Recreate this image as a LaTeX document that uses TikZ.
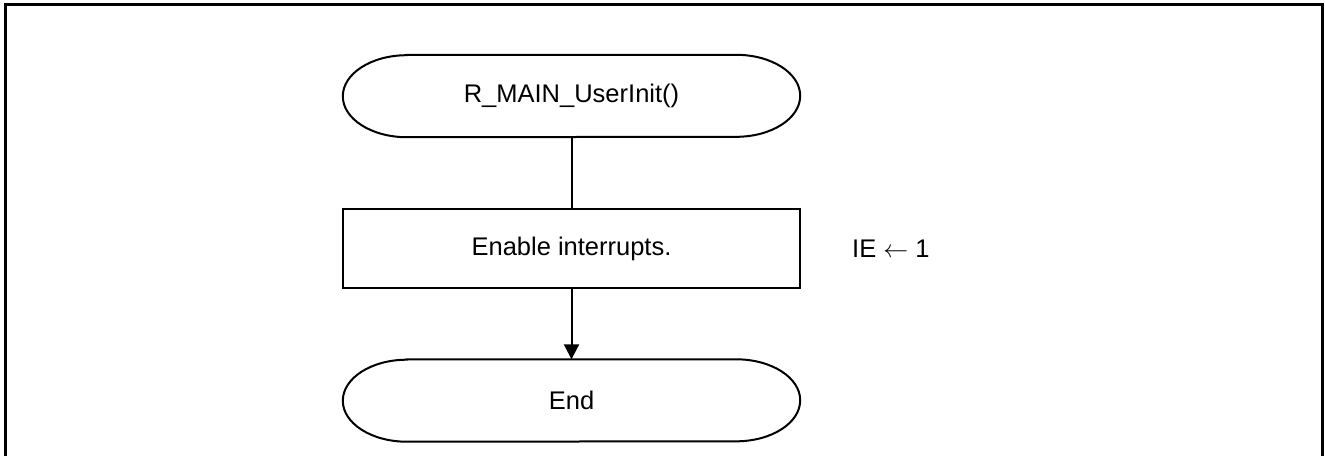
\documentclass[tikz,border=0pt]{standalone}
\usepackage{fontspec}
\setmainfont{Liberation Sans}
\usetikzlibrary{arrows.meta}
\begin{document}
\begin{tikzpicture}[x=1pt,y=-1pt,
  txt/.style={font=\fontsize{25.5}{30}\selectfont, inner sep=0pt},
  term/.style={txt, minimum width=457pt, minimum height=82pt},
  procbox/.style={txt, draw, line width=2pt, minimum width=457pt, minimum height=79pt},
  shapeline/.style={line width=2pt},
  conn/.style={line width=2pt},
  arr/.style={conn, -{Triangle[length=15pt,width=15pt]}}]
\useasboundingbox (0,0) rectangle (1325,456);
\draw[line width=3pt] (5,456) -- (5,4) -- (1322,4) -- (1322,456);
\node[term] (start) at (571.5,96) {R\_MAIN\_UserInit()};
\node[procbox] (box) at (571.5,248.5) {Enable interrupts.};
\node[term] (end) at (571.5,400.5) {End};
\node[txt, anchor=west] (ie) at (852,248.5) {IE $\leftarrow$ 1};
\foreach \n in {start,end}{
  \draw[shapeline] ([xshift=64pt]\n.north west) -- ([xshift=-64pt]\n.north east)
    arc[start angle=90,end angle=-90,x radius=64pt,y radius=41pt]
    -- ([xshift=64pt]\n.south west)
    arc[start angle=270,end angle=90,x radius=64pt,y radius=41pt] -- cycle;
}
\draw[conn] (start.south) -- (box.north);
\draw[arr] (box.south) -- (end.north);
\end{tikzpicture}
\end{document}
